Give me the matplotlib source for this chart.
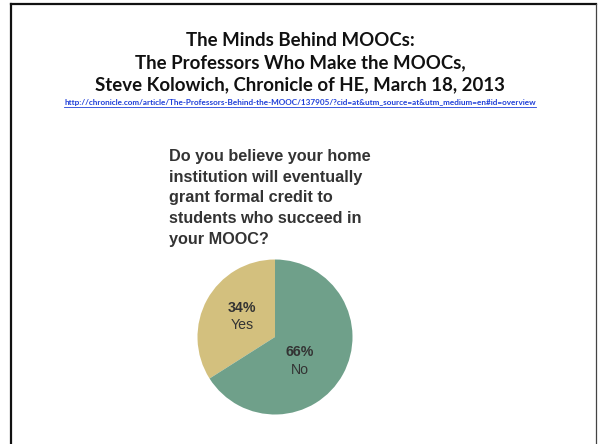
"""Survey pie slide: faculty views on formal MOOC credit."""

import matplotlib
matplotlib.use('Agg')
import matplotlib.pyplot as plt
import numpy as np
from matplotlib.lines import Line2D


TITLE_LINES = [
    "The Minds Behind MOOCs:",
    "The Professors Who Make the MOOCs,",
    "Steve Kolowich, Chronicle of HE, March 18, 2013",
]
SOURCE_URL = ("http://chronicle.com/article/The-Professors-Behind-the-MOOC/137905/"
              "?cid=at&utm_source=at&utm_medium=en#id=overview")
QUESTION = ("Do you believe your home\ninstitution will eventually\n"
            "grant formal credit to\nstudents who succeed in\nyour MOOC?")

answers = ["Yes", "No"]
shares = [34, 66]
answer_colors = ["#D3C07E", "#6FA08A"]

W, H = 600, 444
fig = plt.figure(figsize=(W / 100, H / 100), dpi=100)


def fx(px):
    return px / W


def fy(py):
    return 1 - py / H


# slide frame
fig.add_artist(Line2D([fx(11), fx(11)], [fy(4), 0], color="#111111", lw=1.6))
fig.add_artist(Line2D([fx(11), fx(596)], [fy(4), fy(4)], color="#111111", lw=1.6))
fig.add_artist(Line2D([fx(595.7), fx(595.7)], [fy(4), 0], color="#444444", lw=0.9))

# heading
for i, line in enumerate(TITLE_LINES):
    fig.text(0.5, fy(40 + i * 22.5), line, ha="center", va="center",
             fontsize=13.4, fontweight="bold", family="Lato", color="#111111")

url = fig.text(0.5, fy(102), SOURCE_URL, ha="center", va="center",
               fontsize=5.85, fontweight="bold", family="Lato", color="#1F3FD8")
renderer = fig.canvas.get_renderer()
bb = url.get_window_extent(renderer)
fig.add_artist(Line2D([bb.x0 / W, bb.x1 / W], [fy(106.5), fy(106.5)],
                      color="#1F3FD8", lw=0.6))

# survey question
fig.text(fx(169), fy(149), QUESTION, ha="left", va="top", fontsize=11.7,
         fontweight="bold", family="Liberation Sans", color="#333333",
         linespacing=1.47)

# pie
cx, cy, r = 275, 337, 77.5
ax = fig.add_axes([fx(cx - r), fy(cy + r), 2 * r / W, 2 * r / H])
wedges, _ = ax.pie(shares, colors=answer_colors, startangle=90, counterclock=True,
                   wedgeprops=dict(linewidth=0))
ax.set_xlim(-1, 1)
ax.set_ylim(-1, 1)
ax.set_aspect("auto")
ax.axis("off")

# label radius and angle nudge per wedge
label_r = [0.5, 0.45]
label_turn = [-3, -15]
for w, name, val, lr, turn in zip(wedges, answers, shares, label_r, label_turn):
    mid = np.deg2rad((w.theta1 + w.theta2) / 2 + turn)
    x, y = lr * np.cos(mid), lr * np.sin(mid)
    ax.text(x, y + 0.115, f"{val}%", ha="center", va="center", fontsize=10.2,
            fontweight="bold", family="Liberation Sans", color="#333333")
    ax.text(x, y - 0.115, name, ha="center", va="center", fontsize=10.2,
            family="Liberation Sans", color="#333333")

fig.savefig("out.png", dpi=100)
